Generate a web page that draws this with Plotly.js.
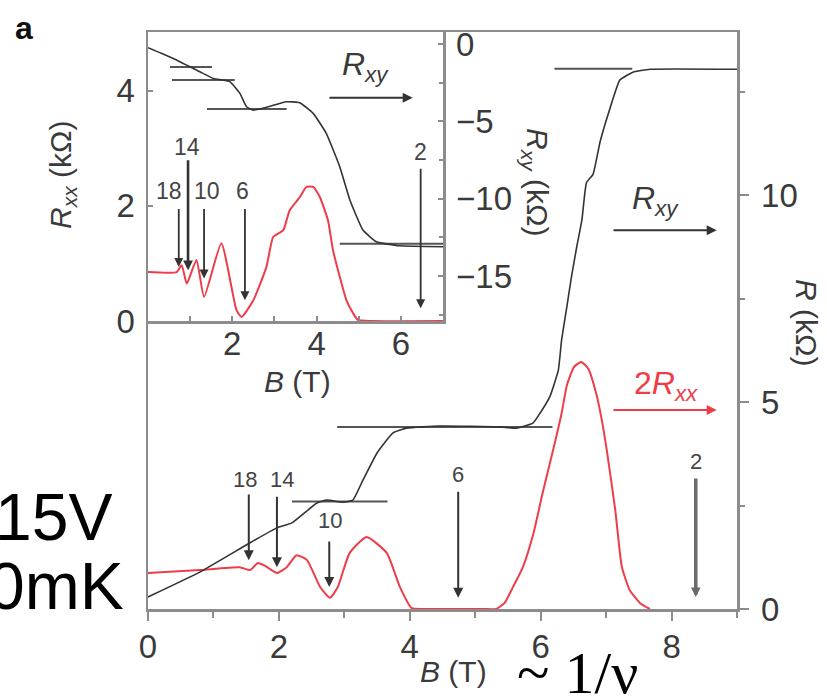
<!DOCTYPE html>
<html>
<head>
<meta charset="utf-8">
<script src="https://cdn.plot.ly/plotly-3.0.1.min.js"></script>
<style>html,body{margin:0;padding:0;background:#fff;}#chart{width:827px;height:698px;}</style>
</head>
<body>
<div id="chart"></div>
<script>
// ---------- main panel data ----------
const mainRxyB = [0,0.79,1.56,1.97,2.2,2.58,2.73,2.98,3.13,3.28,3.5,3.74,3.95,4.46,5.38,5.63,5.88,5.99,6.14,6.27,6.32,6.40,6.47,6.55,6.63,6.70,6.80,6.91,7.06,7.21,7.41,7.67,9.0];
const mainRxy  = [0.29,0.89,1.6,1.96,2.08,2.56,2.63,2.58,2.63,3.1,3.77,4.25,4.37,4.42,4.4,4.37,4.49,4.73,5.13,5.77,6.5,7.3,8.02,8.74,9.4,10.3,10.5,11.3,12.1,12.78,12.97,13.04,13.04];

const main2RxxB = [0,0.79,1.4,1.56,1.68,1.79,1.97,2.12,2.27,2.43,2.63,2.78,2.9,3.08,3.34,3.65,3.85,4.03,4.2,5.1,5.32,5.45,5.58,5.73,5.89,6.04,6.19,6.32,6.40,6.51,6.62,6.73,6.85,6.93,7.01,7.14,7.24,7.36,7.52,7.67];
const main2Rxx  = [0.87,0.94,1.01,0.94,1.11,1.04,0.87,1.01,1.3,1.18,0.53,0.27,0.53,1.35,1.74,1.35,0.53,0.02,0,0,0,0.15,0.54,1.02,1.83,2.87,3.84,4.73,5.4,5.85,5.97,5.8,5.2,4.6,3.84,2.39,1.02,0.46,0.14,0];

const mainPlateauLevel = [2.6, 4.4, 13.05];
const mainPlateauFrom  = [2.2, 2.89, 6.21];
const mainPlateauTo    = [3.66, 6.18, 7.4];

const mainNuLabels = ['18','14','10','6','2'];
const mainNuB      = [1.54, 1.97, 2.77, 4.74, 8.37];

const mainXTicks = [0,2,4,6,8];
const mainYTicks = [0,5,10];

// ---------- inset data ----------
const insetRxxB = [0,0.68,0.8,0.92,1.15,1.33,1.74,2.1,2.22,2.5,2.81,2.97,3.21,3.36,3.6,3.76,3.92,4.08,4.27,4.39,4.55,4.71,4.87,4.98,5.3,7.0];
const insetRxx  = [0.85,0.85,0.97,0.65,1.06,0.42,1.35,0.19,0.07,0.36,0.94,1.46,1.58,1.92,2.15,2.33,2.33,2.15,1.75,1.23,0.77,0.36,0.13,0.02,0,0];

const insetRxyB = [0,0.6,1.23,1.55,1.94,2.18,2.34,2.49,2.81,3.28,3.6,3.92,4.23,4.55,4.79,5.1,5.42,5.97,7.0];
const insetRxy  = [-0.23,-0.93,-1.79,-2.22,-2.43,-3.19,-4.05,-4.27,-4.09,-3.73,-3.79,-4.48,-5.77,-7.93,-10.08,-12.02,-12.78,-13.04,-13.1];

const insetPlateauLevel = [-1.49, -2.33, -4.2, -12.9];
const insetPlateauFrom  = [0.52, 0.57, 1.40, 4.55];
const insetPlateauTo    = [1.52, 2.06, 3.29, 7.0];

const insetNuLabels = ['18','14','10','6','2'];
const insetNuB      = [0.73, 0.95, 1.33, 2.3, 6.47];

const insetXTicks   = [2,4,6];
const insetRxxTicks = [0,2,4];
const insetRxyTicks = [0,-5,-10,-15];

// ---------- styling ----------
const RED = '#ee3d48';
const DARK = '#333333';
const AX = '#8c8c8c';
const TXT = '#3a3a3a';
const FONT = 'Liberation Sans, Arial, sans-serif';

function segs(from, to, lvl) {
  const x = [], y = [];
  for (let i = 0; i < lvl.length; i++) { x.push(from[i], to[i], null); y.push(lvl[i], lvl[i], null); }
  return {x, y};
}
const mp = segs(mainPlateauFrom, mainPlateauTo, mainPlateauLevel);
const ip = segs(insetPlateauFrom, insetPlateauTo, insetPlateauLevel);

const traces = [
  {x: mp.x, y: mp.y, xaxis:'x', yaxis:'y', mode:'lines', line:{color:'#555', width:2}, hoverinfo:'skip'},
  {x: main2RxxB, y: main2Rxx, xaxis:'x', yaxis:'y', mode:'lines', line:{color:RED, width:2, shape:'spline', smoothing:0.5}},
  {x: mainRxyB, y: mainRxy, xaxis:'x', yaxis:'y', mode:'lines', line:{color:DARK, width:1.6, shape:'spline', smoothing:0.4}},
  {x: ip.x, y: ip.y, xaxis:'x2', yaxis:'y3', mode:'lines', line:{color:'#555', width:2}, hoverinfo:'skip'},
  {x: insetRxxB, y: insetRxx, xaxis:'x2', yaxis:'y2', mode:'lines', line:{color:RED, width:2, shape:'spline', smoothing:0.5}},
  {x: insetRxyB, y: insetRxy, xaxis:'x2', yaxis:'y3', mode:'lines', line:{color:DARK, width:1.6, shape:'spline', smoothing:0.4}}
];

// plot area in pixels: x 148..737, y 32..609
const L = 148, R = 737, T = 32, B = 609;
const px = v => (v - L) / (R - L);
const py = v => (B - v) / (B - T);

function arrow(xref, yref, x, yTip, yTop, w, c, s) {
  return {xref, yref, axref:xref, ayref:yref, x:x, y:yTip, ax:x, ay:yTop, text:'',
          showarrow:true, arrowhead:2, arrowsize:s||1, arrowwidth:w, arrowcolor:c, standoff:0, startstandoff:0};
}
function harrow(xref, yref, x0, x1, y, w, c) {
  return {xref, yref, axref:xref, ayref:yref, x:x1, y:y, ax:x0, ay:y, text:'',
          showarrow:true, arrowhead:2, arrowsize:1, arrowwidth:w, arrowcolor:c, standoff:0, startstandoff:0};
}
function label(xref, yref, x, y, text, size, color, extra) {
  return Object.assign({xref, yref, x, y, text, showarrow:false, xanchor:'center', yanchor:'middle',
          font:{family:FONT, size:size, color:color||TXT}}, extra||{});
}

const mainTips = [1.18, 1.01, 0.53, 0.27, 0.29];
const mainTops = [2.8, 2.75, 1.67, 2.87, 3.19];
const mainLblX = [1.48, 2.05, 2.78, 4.74, 8.37];
const mainLblY = [3.12, 3.12, 2.15, 3.24, 3.57];
const insTips = [0.94, 0.88, 0.74, 0.36, 0.22];
const insTops = [1.97, 2.82, 1.97, 1.97, 2.67];
const insLblX = [0.5, 0.92, 1.4, 2.25, 6.47];
const insLblY = [2.25, 3.03, 2.25, 2.25, 2.94];

const ann = [];
mainNuB.forEach((b, i) => {
  if (i === 4) ann.push(arrow('x','y', b, mainTips[i], mainTops[i], 3.5, '#6a6a6a', 0.55));
  else ann.push(arrow('x','y', b, mainTips[i], mainTops[i], 2, '#333', 1));
  ann.push(label('x','y', mainLblX[i], mainLblY[i], mainNuLabels[i], 22, '#444'));
});
insetNuB.forEach((b, i) => {
  if (i === 1) ann.push(arrow('x2','y2', b, insTips[i], insTops[i], 2.6, '#333', 0.75));
  else ann.push(arrow('x2','y2', b, insTips[i], insTops[i], 1.8, '#333', 1));
  ann.push(label('x2','y2', insLblX[i], insLblY[i], insetNuLabels[i], 23, '#444'));
});
ann.push(harrow('x','y', 7.09, 8.69, 9.15, 2, '#333'));
ann.push(harrow('x','y', 7.09, 8.69, 4.81, 2, RED));
ann.push(harrow('x2','y2', 4.27, 6.28, 3.88, 2, '#333'));
ann.push(label('x','y', 7.75, 9.88, '<i>R</i><sub><i>xy</i></sub>', 32, TXT));
ann.push(label('x','y', 7.91, 5.39, '2<i>R</i><sub><i>xx</i></sub>', 32, RED));
ann.push(label('x2','y2', 5.17, 4.42, '<i>R</i><sub><i>xy</i></sub>', 32, TXT));

// titles and texts
ann.push(label('paper','paper', px(453), py(671), '<i>B</i> (T)', 30, TXT));
ann.push(label('paper','paper', px(807), py(322), '<i>R</i> (kΩ)', 30, TXT, {textangle:90}));
ann.push(label('paper','paper', px(297), py(381), '<i>B</i> (T)', 30, TXT));
ann.push(label('paper','paper', px(62), py(175), '<i>R</i><sub><i>xx</i></sub> (kΩ)', 30, TXT, {textangle:-90}));
ann.push(label('paper','paper', px(536), py(182), '<i>R</i><sub><i>xy</i></sub> (kΩ)', 30, TXT, {textangle:90}));
ann.push(label('paper','paper', px(24), py(28), '<b>a</b>', 32, '#111'));
ann.push(label('paper','paper', px(114), py(517), '15V', 66, '#000', {xanchor:'right'}));
ann.push(label('paper','paper', px(126), py(586), '0mK', 66, '#000', {xanchor:'right'}));
ann.push({xref:'paper', yref:'paper', x:px(515), y:py(673), text:'~ 1/ν', showarrow:false,
          xanchor:'left', yanchor:'middle', font:{family:'Liberation Serif, Times New Roman, serif', size:60, color:'#000'}});

const tickFont = {family:FONT, size:33, color:TXT};
const axBase = {showline:true, linecolor:AX, linewidth:2.5, showgrid:false, zeroline:false,
                tickcolor:AX, tickfont:tickFont, fixedrange:true};

const layout = {
  width:827, height:698, autosize:false,
  margin:{l:L, r:827-R, t:T, b:698-B, pad:0},
  paper_bgcolor:'#fff', plot_bgcolor:'rgba(0,0,0,0)',
  showlegend:false,
  font:{family:FONT, color:TXT},
  xaxis: Object.assign({}, axBase, {domain:[0,1], anchor:'y', range:[0,9], tickmode:'array', tickvals:mainXTicks,
          ticks:'outside', ticklen:9, tickwidth:2, mirror:true, ticklabelstandoff:-2,
          minor:{tickmode:'linear', tick0:0, dtick:1, ticks:'outside', ticklen:6, tickwidth:2, tickcolor:AX}}),
  yaxis: Object.assign({}, axBase, {domain:[0,1], anchor:'x', side:'right', range:[0,13.94], tickmode:'array', tickvals:mainYTicks,
          ticks:'outside', ticklen:9, tickwidth:2, mirror:true, ticklabelstandoff:6,
          minor:{tickmode:'linear', tick0:0, dtick:2.5, ticks:'outside', ticklen:5, tickwidth:2, tickcolor:AX}}),
  xaxis2: Object.assign({}, axBase, {domain:[0, px(443)], anchor:'y2', range:[0,7], tickmode:'array', tickvals:insetXTicks,
          ticks:'inside', ticklen:5, tickwidth:2, ticklabelstandoff:-8,
          minor:{tickmode:'linear', tick0:0, dtick:1, ticks:'inside', ticklen:5, tickwidth:2, tickcolor:AX}}),
  yaxis2: Object.assign({}, axBase, {domain:[py(321), 1], anchor:'x2', range:[0,5.02], tickmode:'array', tickvals:insetRxxTicks,
          ticks:'inside', ticklen:5, tickwidth:2, ticklabelstandoff:4}),
  yaxis3: Object.assign({}, axBase, {overlaying:'y2', anchor:'x2', side:'right', range:[-17.9,0.78], tickmode:'array', tickvals:insetRxyTicks,
          ticks:'inside', ticklen:5, tickwidth:2, ticklabelstandoff:4,
          minor:{tickmode:'linear', tick0:0, dtick:2.5, ticks:'inside', ticklen:4, tickwidth:2, tickcolor:AX}}),
  annotations: ann
};

Plotly.newPlot('chart', traces, layout, {staticPlot:true, displayModeBar:false});
</script>
</body>
</html>
